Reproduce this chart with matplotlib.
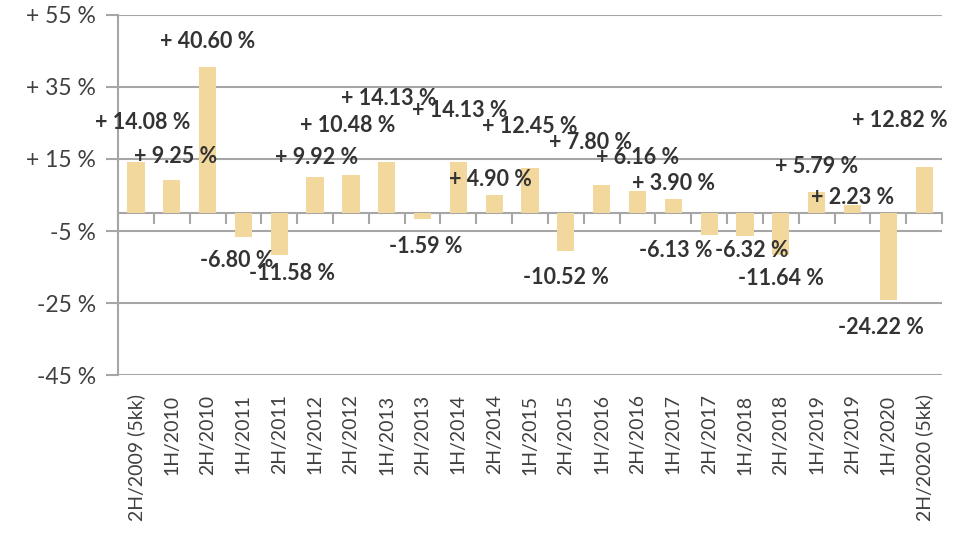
import matplotlib.pyplot as plt
import numpy as np

plt.rcParams['font.family'] = ['Lato', 'DejaVu Sans']

periods = ['2H/2009 (5kk)', '1H/2010', '2H/2010', '1H/2011', '2H/2011', '1H/2012',
           '2H/2012', '1H/2013', '2H/2013', '1H/2014', '2H/2014', '1H/2015',
           '2H/2015', '1H/2016', '2H/2016', '1H/2017', '2H/2017', '1H/2018',
           '2H/2018', '1H/2019', '2H/2019', '1H/2020', '2H/2020 (5kk)']
change = [14.08, 9.25, 40.60, -6.80, -11.58, 9.92, 10.48, 14.13, -1.59, 14.13,
          4.90, 12.45, -10.52, 7.80, 6.16, 3.90, -6.13, -6.32, -11.64, 5.79,
          2.23, -24.22, 12.82]

# where the labels sit in the original (value units / category units)
label_y = [25.0, 15.6, 47.5, -13.1, -16.9, 15.3, 24.2, 31.7, -9.4, 28.6,
           9.2, 23.9, -17.8, 19.7, 15.3, 8.3, -10.3, -10.3, -18.1, 12.8,
           4.2, -31.9, 25.8]
label_dx = [0.2, 0.1, 0.0, -0.2, 0.36, 0.05, -0.1, 0.05, 0.1, 0.05,
            -0.1, 0.0, 0.0, -0.3, 0.0, 0.0, -0.92, 0.2, 0.0, 0.0,
            0.0, -0.2, -0.67]

yticks = [55, 35, 15, -5, -25, -45]

grid_col = '#A6A6A6'
bar_col = '#F3D89E'
text_col = '#333333'

fig = plt.figure(figsize=(9.66, 5.33), dpi=100)
ax = fig.add_axes([0.1222, 0.2964, 0.8530, 0.6755])

x = np.arange(len(periods))
ax.bar(x, change, width=0.48, color=bar_col, zorder=3)

for i, v in enumerate(change):
    txt = f'+ {v:.2f} %' if v >= 0 else f'{v:.2f} %'
    ax.text(i + label_dx[i], label_y[i], txt, ha='center', va='center',
            fontsize=15.5, fontweight='bold', color=text_col, zorder=4)

ax.set_xlim(-0.5, len(periods) - 0.5)
ax.set_ylim(-45, 55)
ax.set_yticks(yticks)
ax.set_yticklabels([f'+ {t} %' if t > 0 else f'{t} %' for t in yticks],
                   fontsize=16.5, color='#404040')
ax.yaxis.grid(True, color=grid_col, linewidth=1.5, zorder=0)
ax.tick_params(axis='y', length=9, width=1.5, color=grid_col, pad=7)

ax.set_xticks(x)
ax.set_xticklabels(periods, rotation=90, fontsize=14, color='#404040')
ax.tick_params(axis='x', length=0, pad=14)

for s in ['top', 'right', 'bottom']:
    ax.spines[s].set_visible(False)
ax.spines['left'].set_color(grid_col)
ax.spines['left'].set_linewidth(1.5)

# category axis at zero with ticks between bars
zero_ax = ax.secondary_xaxis(0, transform=ax.transData)
zero_ax.set_xticks(np.arange(len(periods) + 1) - 0.5)
zero_ax.tick_params(length=8, width=1.5, color=grid_col, labelbottom=False)
zero_ax.spines['bottom'].set_color(grid_col)
zero_ax.spines['bottom'].set_linewidth(1.5)

fig.savefig('out.png', dpi=100)
